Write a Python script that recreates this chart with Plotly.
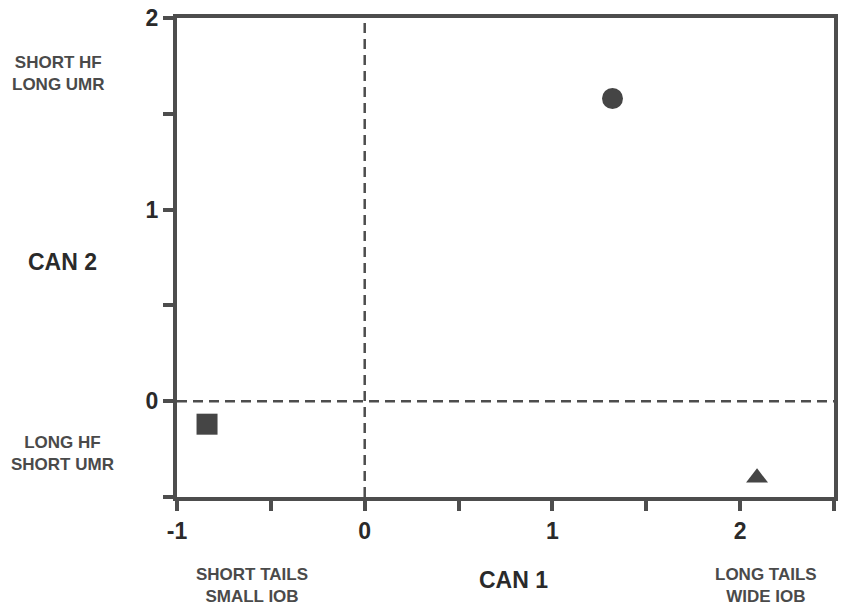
import plotly.graph_objects as go

# Data
groups = ["circle_group", "square_group", "triangle_group"]
can1 = [1.32, -0.84, 2.09]
can2 = [1.58, -0.12, -0.40]
symbols = ["circle", "square", "triangle-up"]
sizes = [21, 21, 19]

x_tickvals = [-1, -0.5, 0, 0.5, 1, 1.5, 2, 2.5]
x_ticktext = ["<b>-1</b>", "", "<b>0</b>", "", "<b>1</b>", "", "<b>2</b>", ""]
y_tickvals = [-0.5, 0, 0.5, 1, 1.5, 2]
y_ticktext = ["", "<b>0</b>", "", "<b>1</b>", "", "<b>2</b>"]

axis_color = "#4d4d4d"
mark_color = "#454545"
font_main = "Liberation Sans, Arial, sans-serif"

fig = go.Figure()

# dashed reference lines
fig.add_trace(go.Scatter(x=[-1, 2.5], y=[0, 0], mode="lines",
                         line=dict(color=axis_color, width=2.5, dash="10px,6px"),
                         hoverinfo="skip", showlegend=False))
fig.add_trace(go.Scatter(x=[0, 0], y=[-0.5, 2], mode="lines",
                         line=dict(color=axis_color, width=2.5, dash="10px,6px"),
                         hoverinfo="skip", showlegend=False))

for i in range(len(groups)):
    fig.add_trace(go.Scatter(x=[can1[i]], y=[can2[i]], mode="markers",
                             marker=dict(symbol=symbols[i], size=sizes[i], color=mark_color,
                                         line=dict(width=0)),
                             showlegend=False, name=groups[i]))

fig.update_xaxes(range=[-1, 2.5], tickvals=x_tickvals, ticktext=x_ticktext,
                 showline=True, linewidth=4, linecolor=axis_color, mirror=True,
                 ticks="outside", ticklen=10, tickwidth=4, tickcolor=axis_color,
                 showgrid=False, zeroline=False,
                 tickfont=dict(family=font_main, size=23, color="#2a2a2a"))
fig.update_yaxes(range=[-0.5, 2], tickvals=y_tickvals, ticktext=y_ticktext,
                 showline=True, linewidth=4, linecolor=axis_color, mirror=True,
                 ticks="outside", ticklen=10, tickwidth=4, tickcolor=axis_color,
                 showgrid=False, zeroline=False,
                 tickfont=dict(family=font_main, size=23, color="#2a2a2a"))

small = dict(family=font_main, size=17, color="#4a4a4a")
big = dict(family=font_main, size=23, color="#2a2a2a")

annotations = [
    dict(text="<b>SHORT HF<br>LONG UMR</b>", x=58, y=73, font=small),
    dict(text="<b>CAN 2</b>", x=62, y=262, font=big),
    dict(text="<b>LONG HF<br>SHORT UMR</b>", x=62, y=453, font=small),
    dict(text="<b>SHORT TAILS<br>SMALL IOB</b>", x=252, y=586, font=small),
    dict(text="<b>CAN 1</b>", x=516, y=580, font=big),
    dict(text="<b>LONG TAILS<br>WIDE IOB</b>", x=770, y=586, font=small),
]
W, H = 843, 607
pl, pr, pt, pb = 177, 5, 17, 110
pw, ph = W - pl - pr, H - pt - pb
for a in annotations:
    fig.add_annotation(text=a["text"], x=(a["x"] - pl) / pw, y=1 - (a["y"] - pt) / ph,
                       xref="paper", yref="paper", showarrow=False,
                       xanchor="center", yanchor="middle", font=a["font"],
                       align="center")

fig.update_layout(
    width=W, height=H,
    margin=dict(l=pl, r=pr, t=pt, b=pb),
    plot_bgcolor="white", paper_bgcolor="white",
    font=dict(family=font_main),
)

fig.write_html("out.html")
